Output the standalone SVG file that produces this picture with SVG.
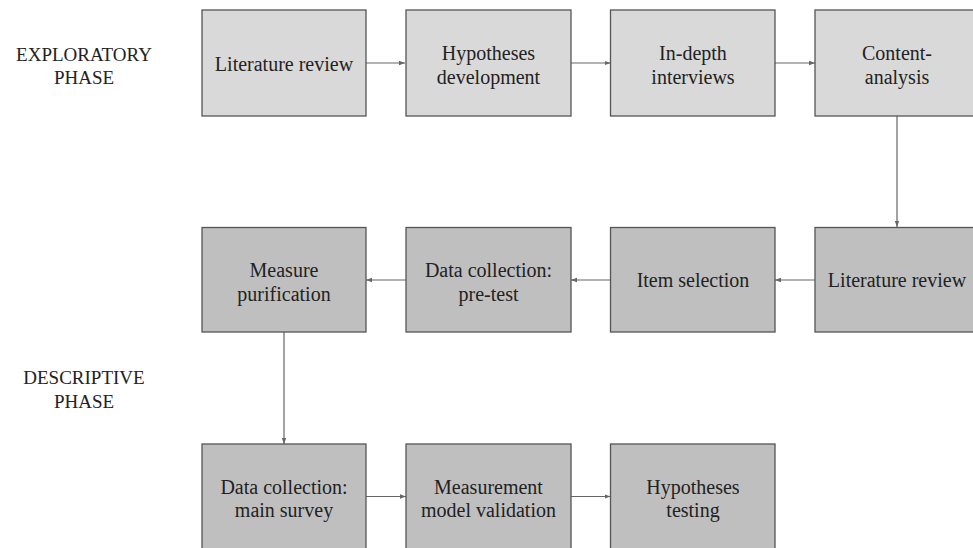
<svg xmlns="http://www.w3.org/2000/svg" width="973" height="548" viewBox="0 0 973 548">
<style>
  .light { fill: #d9d9d9; stroke: #555555; stroke-width: 1.3; }
  .dark { fill: #bfbfbf; stroke: #555555; stroke-width: 1.3; }
  .t { font-family: "Liberation Serif", "Times New Roman", serif; font-size: 20px; fill: #222222; text-anchor: middle; }
  .ph { font-family: "Liberation Serif", "Times New Roman", serif; font-size: 19px; fill: #222222; text-anchor: middle; }
  .c { stroke: #666666; stroke-width: 1.2; fill: none; marker-end: url(#ah); }
</style>
<defs>
  <marker id="ah" viewBox="0 0 6 6" refX="6" refY="3" markerWidth="6" markerHeight="6" markerUnits="userSpaceOnUse" orient="auto">
    <path d="M0,0.8 L6,3 L0,5.2 Z" fill="#666666"/>
  </marker>
</defs>
<rect width="973" height="548" fill="#ffffff"/>

<g id="label-exploratory">
  <text class="ph" x="84" y="61">EXPLORATORY</text>
  <text class="ph" x="84" y="84">PHASE</text>
</g>
<g id="label-descriptive">
  <text class="ph" x="84" y="384">DESCRIPTIVE</text>
  <text class="ph" x="84" y="408">PHASE</text>
</g>

<g id="connectors">
  <path class="c" d="M366,63 H405"/>
  <path class="c" d="M571,63 H610.5"/>
  <path class="c" d="M775,63 H815"/>
  <path class="c" d="M897,116 V227"/>
  <path class="c" d="M815,280 H775"/>
  <path class="c" d="M610.5,280 H571"/>
  <path class="c" d="M406,280 H366"/>
  <path class="c" d="M284,332 V444"/>
  <path class="c" d="M366,496.5 H406"/>
  <path class="c" d="M571,496.5 H610.5"/>
</g>

<g id="n1">
  <rect class="light" x="202" y="10" width="164" height="106"/>
  <text class="t" x="284" y="71">Literature review</text>
</g>
<g id="n2">
  <rect class="light" x="406" y="10" width="165" height="106"/>
  <text class="t" x="488.5" y="60">Hypotheses</text>
  <text class="t" x="488.5" y="84">development</text>
</g>
<g id="n3">
  <rect class="light" x="610.5" y="10" width="164.5" height="106"/>
  <text class="t" x="693" y="60">In-depth</text>
  <text class="t" x="693" y="84">interviews</text>
</g>
<g id="n4">
  <rect class="light" x="815" y="10" width="164" height="106"/>
  <text class="t" x="897" y="60">Content-</text>
  <text class="t" x="897" y="84">analysis</text>
</g>

<g id="n5">
  <rect class="dark" x="815" y="227.5" width="164" height="104.5"/>
  <text class="t" x="897" y="287">Literature review</text>
</g>
<g id="n6">
  <rect class="dark" x="610.5" y="227.5" width="164.5" height="104.5"/>
  <text class="t" x="693" y="287">Item selection</text>
</g>
<g id="n7">
  <rect class="dark" x="406" y="227.5" width="165" height="104.5"/>
  <text class="t" x="488.5" y="276.5">Data collection:</text>
  <text class="t" x="488.5" y="300.5">pre-test</text>
</g>
<g id="n8">
  <rect class="dark" x="202" y="227.5" width="164" height="104.5"/>
  <text class="t" x="284" y="276.5">Measure</text>
  <text class="t" x="284" y="300.5">purification</text>
</g>

<g id="n9">
  <rect class="dark" x="202" y="444" width="164" height="106"/>
  <text class="t" x="284" y="493.5">Data collection:</text>
  <text class="t" x="284" y="516.5">main survey</text>
</g>
<g id="n10">
  <rect class="dark" x="406" y="444" width="165" height="106"/>
  <text class="t" x="488.5" y="493.5">Measurement</text>
  <text class="t" x="488.5" y="516.5">model validation</text>
</g>
<g id="n11">
  <rect class="dark" x="610.5" y="444" width="164.5" height="106"/>
  <text class="t" x="693" y="493.5">Hypotheses</text>
  <text class="t" x="693" y="516.5">testing</text>
</g>
</svg>
